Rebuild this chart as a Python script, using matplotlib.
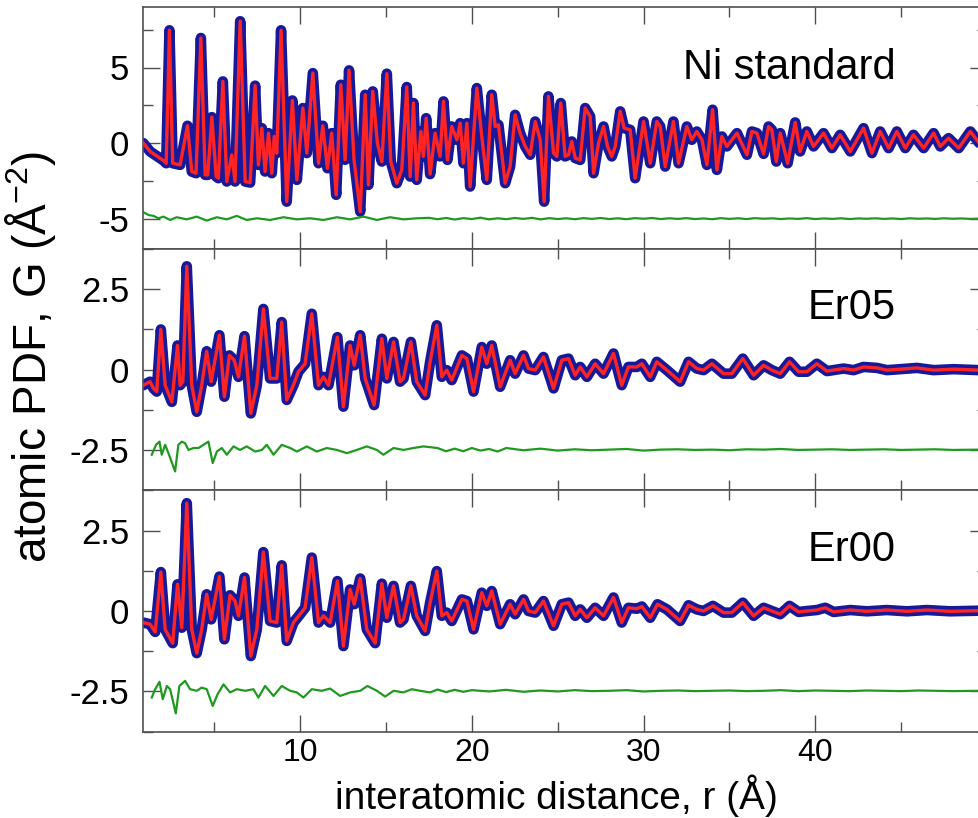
import matplotlib
matplotlib.use("Agg")
import matplotlib.pyplot as plt
from matplotlib import font_manager
from matplotlib.ticker import MultipleLocator, FixedLocator, NullFormatter, FuncFormatter

# ---------------- data ----------------
ni_r = [0.87, 1.26, 2.04, 2.20, 2.39, 2.58, 3.01, 3.44, 3.69, 3.94, 4.22, 4.47, 4.62, 4.86,
        5.11, 5.24, 5.50, 5.73, 6.02, 6.21, 6.51, 6.80, 7.09, 7.38, 7.57, 7.77, 7.96, 8.16,
        8.35, 8.49, 8.64, 8.89, 9.22, 9.55, 9.81, 10.16, 10.39, 10.74, 11.07, 11.32, 11.59,
        11.84, 12.10, 12.37, 12.62, 12.85, 13.14, 13.50, 13.79, 13.98, 14.23, 14.50, 14.76,
        15.05, 15.28, 15.63, 15.92, 16.21, 16.41, 16.60, 16.79, 17.03, 17.18, 17.34, 17.57,
        17.86, 18.15, 18.35, 18.58, 18.83, 19.13, 19.32, 19.51, 19.71, 19.90, 20.29, 20.58,
        20.87, 21.16, 21.36, 21.55, 21.94, 22.23, 22.52, 22.81, 23.11, 23.40, 23.69, 23.98,
        24.21, 24.46, 24.76, 24.95, 25.18, 25.43, 25.63, 25.82, 26.02, 26.31, 26.60, 26.89,
        27.09, 27.38, 27.67, 27.90, 28.15, 28.35, 28.64, 28.87, 29.22, 29.51, 30.00, 30.39,
        30.77, 30.97, 31.26, 31.74, 32.04, 32.52, 32.81, 33.10, 33.40, 33.69, 34.02, 34.27,
        34.56, 34.85, 35.44, 36.02, 36.31, 36.60, 36.99, 37.28, 37.47, 37.73, 37.96, 38.39,
        38.83, 39.12, 39.51, 39.90, 40.48, 40.97, 41.45, 42.04, 42.81, 43.30, 43.78, 44.27,
        44.75, 45.24, 45.72, 46.31, 46.89, 47.28, 47.76, 48.35, 49.03, 49.55]
ni_g = [0.00, -0.55, -1.15, -1.33, 7.46, -1.33, -1.44, 1.15, -1.88, -1.99, 6.95, -2.10, -2.10, 1.72,
        -2.21, -2.32, 4.08, -2.54, -0.78, -2.54, 8.06, -2.54, -2.61, 3.80, -1.44, 0.99, -1.88, 0.66,
        -1.99, 0.44, -0.66, 7.46, -3.87, 2.82, -2.43, 2.32, -0.66, 4.63, -1.33, 1.15, -1.66,
        0.66, -3.42, 3.86, -1.10, 4.81, -1.11, -4.53, 3.20, -2.76, 3.42, 0.00, -1.22,
        4.59, -1.22, -2.65, -1.77, 3.71, -2.21, 2.65, -2.43, 0.77, -0.88, 1.65, -2.05,
        0.66, -0.88, 2.76, -1.11, 1.10, 0.22, 1.32, -1.33, 1.32, -2.87, 3.64, 0.44,
        -2.43, 3.20, 1.10, 1.21, -2.65, -1.55, 1.87, 0.66, -0.22, -0.77, 1.43, 0.22,
        -3.87, 3.09, -0.66, -0.88, 2.65, -0.88, -0.77, 0.11, -0.99, -1.11, 2.32, 1.76,
        -1.99, 0.00, 1.10, -0.22, -0.88, -0.22, 2.10, 0.99, 0.88, -2.32, 1.43, -1.33,
        1.43, 1.10, -1.55, 1.43, -1.33, 1.10, 0.22, 0.77, 0.22, -1.44, 2.21, -1.77,
        0.44, -0.22, 0.66, -0.77, 0.77, 0.66, -0.71, 1.10, 0.88, -1.22, 0.66, -1.33,
        1.37, -0.55, 0.77, -0.22, 0.66, -0.33, 0.55, -0.55, 0.99, -0.66, 0.77, -0.33,
        0.77, -0.33, 0.55, -0.33, 0.66, -0.22, 0.33, -0.33, 0.77, 0.00]
ni_fit = list(ni_g)

ni_diff_r = [0.87, 1.17, 1.46, 1.75, 2.04, 2.43, 2.82, 3.40, 3.98, 4.56, 5.15, 5.73, 6.31, 6.89,
             7.48, 8.25, 9.03, 9.81, 10.58, 11.36, 12.14, 12.91, 13.69, 14.47, 15.24, 16.02,
             16.80, 17.5, 18.0, 18.5, 19.0, 19.5, 20.0, 20.5, 21.0, 21.5, 22.0, 22.5, 23.0,
             23.5, 24.0, 24.5, 25.0, 25.5, 26.0, 26.5, 27.0, 27.5, 28.0, 28.5, 29.0, 29.5,
             30.0, 30.5, 31.0, 31.5, 32.0, 32.5, 33.0, 33.5, 34.0, 34.5, 35.0, 35.5, 36.0,
             36.5, 37.0, 37.5, 38.0, 38.5, 39.0, 39.5, 40.0, 40.5, 41.0, 41.5, 42.0, 42.5,
             43.0, 43.5, 44.0, 44.5, 45.0, 45.5, 46.0, 46.5, 47.0, 47.5, 48.0, 48.5, 49.0, 49.6]
ni_diff_g = [-4.57, -4.75, -4.81, -4.97, -4.86, -5.08, -4.90, -5.04, -4.86, -5.12, -4.90, -5.04,
             -4.81, -5.08, -4.97, -5.08, -4.90, -5.04, -4.97, -5.08, -4.90, -5.04, -4.86, -5.08,
             -4.90, -5.04, -4.97, -4.94, -5.03, -4.95, -5.05, -4.96, -5.02, -4.93, -5.04, -4.97,
             -5.03, -4.95, -5.01, -4.94, -5.04, -4.96, -5.02, -4.97, -5.03, -4.96, -5.01, -4.95,
             -5.02, -4.97, -5.03, -4.96, -5.00, -4.95, -5.02, -4.97, -5.01, -4.96, -5.02, -4.98,
             -5.03, -4.96, -5.01, -4.97, -5.02, -4.96, -5.00, -4.97, -5.02, -4.98, -5.01, -4.96,
             -5.02, -4.98, -5.01, -4.97, -5.02, -4.98, -5.00, -4.97, -5.01, -4.98, -5.02, -4.97,
             -5.00, -4.98, -5.01, -4.97, -5.00, -4.98, -5.01, -4.99]

er05_r = [0.87, 1.26, 1.46, 1.65, 1.89, 2.14, 2.53, 2.86, 3.01, 3.17, 3.40, 3.69, 3.98, 4.27,
          4.56, 4.82, 5.30, 5.59, 5.88, 6.16, 6.41, 6.76, 7.13, 7.48, 7.86, 8.25, 8.64, 8.93,
          9.22, 9.61, 9.90, 10.29, 10.68, 11.07, 11.36, 11.65, 12.17, 12.52, 12.91, 13.15,
          13.50, 13.79, 14.31, 14.76, 15.05, 15.44, 15.82, 16.02, 16.45, 16.79, 17.28, 17.57,
          17.96, 18.25, 18.54, 18.83, 19.42, 19.71, 20.10, 20.58, 20.87, 21.16, 21.65, 22.23,
          22.52, 23.01, 23.30, 23.69, 24.17, 24.76, 25.24, 25.63, 26.02, 26.31, 26.70, 27.18,
          27.67, 28.25, 28.73, 29.12, 29.61, 29.90, 30.39, 30.77, 31.36, 32.13, 32.62, 33.10,
          33.49, 33.98, 34.66, 35.14, 35.78, 36.41, 36.99, 37.47, 37.96, 38.50, 39.03, 39.51,
          40.09, 40.68, 41.65, 42.23, 42.81, 43.59, 44.17, 44.95, 45.92, 46.89, 48.05, 49.55]
er05_g = [-0.49, -0.38, -0.59, -0.69, 1.25, -0.49, -1.01, 0.75, -0.49, -0.38, 3.22, -0.49, -1.32, -0.49,
          0.57, -0.38, 1.07, -0.85, 0.44, 0.29, -0.23, 1.04, -1.37, -0.49, 1.89, -0.28, -0.28, 1.48,
          -0.95, -0.49, -0.07, 0.18, 1.74, -0.49, -0.23, -0.49, 1.01, -1.16, 0.75, 0.13,
          1.07, -0.28, -1.11, 0.96, -0.28, 0.86, -0.38, -0.28, 0.86, -0.38, -0.80, 0.24,
          1.38, -0.23, -0.02, -0.33, 0.44, 0.34, -0.69, 0.70, 0.18, 0.75, -0.54, 0.29,
          -0.13, 0.44, 0.03, -0.02, 0.39, -0.59, 0.29, 0.34, -0.18, 0.08, -0.23, 0.18,
          -0.13, 0.50, -0.49, 0.08, 0.08, 0.18, -0.23, 0.24, -0.02, -0.38, 0.24, 0.03,
          -0.02, 0.18, -0.13, -0.13, 0.34, -0.18, 0.13, -0.02, -0.13, 0.24, -0.07, -0.07,
          0.18, -0.05, 0.03, -0.02, 0.08, 0.05, -0.02, 0.01, 0.05, -0.02, 0.01, -0.02]
er05_fit = list(er05_g)

er05_diff_r = [1.36, 1.61, 1.81, 1.94, 2.14, 2.33, 2.72, 2.91, 3.11, 3.30, 3.50, 3.79, 4.08, 4.37,
               4.66, 4.91, 5.15, 5.44, 5.73, 6.12, 6.50, 6.89, 7.38, 7.77, 8.06, 8.45, 8.93,
               9.42, 9.81, 10.39, 10.97, 11.55, 12.14, 12.72, 13.30, 13.88, 14.47, 14.85, 15.44,
               16.02, 16.60, 17.18, 18.0, 18.5, 19.0, 19.5, 20.0, 20.5, 21.0, 21.5, 22.0, 23.0,
               24.0, 25.0, 26.0, 27.0, 28.0, 29.0, 30.0, 31.0, 32.0, 33.0, 34.0, 35.0, 36.0,
               37.0, 38.0, 39.0, 40.0, 41.0, 42.0, 43.0, 44.0, 45.0, 46.0, 47.0, 48.0, 49.6]
er05_diff_g = [-2.66, -2.35, -2.25, -2.66, -2.35, -2.61, -3.18, -2.35, -2.25, -2.30, -2.51, -2.45,
               -2.45, -2.35, -2.25, -2.92, -2.56, -2.45, -2.66, -2.40, -2.51, -2.40, -2.56, -2.51,
               -2.35, -2.66, -2.35, -2.45, -2.56, -2.40, -2.56, -2.45, -2.51, -2.61, -2.51, -2.40,
               -2.51, -2.66, -2.45, -2.51, -2.45, -2.40, -2.45, -2.55, -2.47, -2.55, -2.45, -2.53,
               -2.48, -2.56, -2.45, -2.52, -2.47, -2.53, -2.49, -2.52, -2.50, -2.48, -2.53, -2.50,
               -2.49, -2.51, -2.50, -2.52, -2.49, -2.50, -2.48, -2.51, -2.50, -2.49, -2.51, -2.50,
               -2.49, -2.51, -2.50, -2.49, -2.51, -2.50]

er00_r = [0.87, 1.26, 1.56, 1.89, 2.14, 2.58, 2.86, 3.11, 3.40, 3.69, 3.98, 4.27, 4.56, 4.82,
          5.30, 5.59, 5.92, 6.21, 6.41, 6.76, 7.13, 7.48, 7.86, 8.25, 8.64, 8.93, 9.22, 9.61,
          10.00, 10.29, 10.68, 11.07, 11.36, 11.75, 12.17, 12.52, 12.91, 13.15, 13.50, 13.88,
          14.37, 14.76, 15.05, 15.44, 15.82, 16.02, 16.45, 16.79, 17.28, 17.57, 17.96, 18.25,
          18.54, 18.83, 19.42, 19.71, 20.10, 20.58, 20.87, 21.16, 21.65, 22.23, 22.52, 23.01,
          23.30, 23.69, 24.17, 24.76, 25.24, 25.63, 26.02, 26.31, 26.70, 27.18, 27.67, 28.25,
          28.73, 29.12, 29.61, 29.90, 30.39, 30.81, 31.36, 32.13, 32.62, 33.10, 33.49, 34.04,
          34.66, 35.14, 35.78, 36.41, 36.99, 37.47, 37.96, 38.50, 39.03, 39.51, 40.09, 40.58,
          41.07, 42.04, 43.01, 44.17, 45.34, 46.50, 47.86, 49.55]
er00_g = [-0.36, -0.41, -0.65, 1.21, -0.57, -1.00, 0.83, -0.52, 3.35, -0.57, -1.31, -0.57, 0.52, -0.26,
          1.07, -0.88, 0.49, 0.31, -0.15, 1.04, -1.40, -0.57, 1.83, -0.31, -0.36, 1.42, -0.93, -0.36,
          -0.10, 0.10, 1.66, -0.36, -0.15, -0.36, 0.93, -1.09, 0.67, 0.21, 1.01, -0.57,
          -1.00, 0.85, -0.21, 0.78, -0.36, -0.26, 0.78, -0.15, -0.62, 0.26, 1.24, -0.15,
          -0.05, -0.31, 0.36, 0.31, -0.57, 0.57, 0.16, 0.62, -0.41, 0.21, -0.10, 0.36,
          0.00, -0.05, 0.31, -0.46, 0.21, 0.26, -0.15, 0.05, -0.21, 0.10, -0.15, 0.42,
          -0.36, 0.10, 0.07, 0.14, -0.21, 0.21, 0.05, -0.31, 0.18, 0.05, 0.00, 0.16,
          -0.05, -0.05, 0.26, -0.15, 0.10, 0.00, -0.10, 0.16, -0.03, 0.00, 0.03, 0.10,
          -0.03, 0.03, -0.01, 0.03, -0.01, 0.03, -0.01, 0.01]
er00_fit = list(er00_g)

er00_diff_r = [1.36, 1.56, 1.81, 2.00, 2.24, 2.43, 2.76, 2.97, 3.30, 3.59, 3.98, 4.27, 4.56, 4.91,
               5.19, 5.54, 5.92, 6.31, 6.80, 7.28, 7.57, 7.96, 8.45, 8.93, 9.42, 9.81, 10.19,
               10.68, 11.26, 11.75, 12.33, 12.91, 13.50, 13.92, 14.47, 14.95, 15.44, 16.02, 16.50,
               16.99, 17.57, 18.0, 18.5, 19.0, 19.5, 20.0, 21.0, 22.0, 23.0, 24.0, 25.0, 26.0,
               27.0, 28.0, 29.0, 30.0, 31.0, 32.0, 33.0, 34.0, 35.0, 36.0, 37.0, 38.0, 39.0,
               40.0, 41.0, 42.0, 43.0, 44.0, 45.0, 46.0, 47.0, 48.0, 49.6]
er00_diff_g = [-2.69, -2.43, -2.20, -2.74, -2.33, -2.43, -3.18, -2.33, -2.17, -2.43, -2.48, -2.38,
               -2.43, -2.95, -2.59, -2.28, -2.53, -2.43, -2.48, -2.43, -2.69, -2.33, -2.64, -2.33,
               -2.48, -2.53, -2.69, -2.43, -2.48, -2.41, -2.64, -2.53, -2.48, -2.33, -2.48, -2.66,
               -2.48, -2.53, -2.43, -2.48, -2.53, -2.44, -2.52, -2.45, -2.51, -2.46, -2.50, -2.45,
               -2.51, -2.47, -2.50, -2.46, -2.49, -2.48, -2.46, -2.50, -2.48, -2.47, -2.49, -2.48,
               -2.47, -2.49, -2.48, -2.46, -2.49, -2.47, -2.48, -2.49, -2.47, -2.48, -2.49, -2.47,
               -2.48, -2.49, -2.48]

panel_names = ["Ni standard", "Er05", "Er00"]
x_ticks = [10, 20, 30, 40]
ylims = [(-7.0, 9.0), (-3.76, 3.76), (-3.76, 3.76)]
y_major = [5.0, 2.5, 2.5]
y_minor = [2.5, 1.25, 1.25]

# ---------------- style ----------------
narrow_found = any(f.name == "Liberation Sans Narrow" for f in font_manager.fontManager.ttflist)
REG = "Liberation Sans"
NARROW = "Liberation Sans Narrow" if narrow_found else REG
nscale = 1.2 if narrow_found else 1.0

BLUE = "#18189a"
RED = "#ff2424"
GREEN = "#1f9a1f"
SPINE = "#505050"

W, H = 979, 818
fig = plt.figure(figsize=(W / 100, H / 100), dpi=100)

tops = [7, 249, 490]
bots = [249, 490, 732]
left_px, right_px = 143, 987

data = [(ni_r, ni_g, ni_fit, ni_diff_r, ni_diff_g),
        (er05_r, er05_g, er05_fit, er05_diff_r, er05_diff_g),
        (er00_r, er00_g, er00_fit, er00_diff_r, er00_diff_g)]
label_y = [68, 308, 550]

fmt = FuncFormatter(lambda v, _: ("%g" % v))

for i in range(3):
    ax = fig.add_axes([left_px / W, 1 - bots[i] / H, (right_px - left_px) / W,
                       (bots[i] - tops[i]) / H])
    r, g, fit, dr, dg = data[i]
    ax.plot(r, g, color=BLUE, lw=7.6, solid_joinstyle="round", solid_capstyle="round", zorder=2)
    ax.plot(r, fit, color=RED, lw=2.4, solid_joinstyle="round", zorder=3)
    ax.plot(dr, dg, color=GREEN, lw=1.6, zorder=2)
    ax.set_xlim(0.85, 50.0)
    ax.set_ylim(*ylims[i])
    ax.xaxis.set_major_locator(FixedLocator(x_ticks))
    ax.xaxis.set_minor_locator(MultipleLocator(5))
    ax.yaxis.set_major_locator(MultipleLocator(y_major[i]))
    ax.yaxis.set_minor_locator(MultipleLocator(y_minor[i]))
    ax.yaxis.set_major_formatter(fmt)
    ax.tick_params(which="both", direction="in", top=True, right=True, color=SPINE, width=1.0)
    ax.tick_params(which="major", length=12.5)
    ax.tick_params(which="minor", length=7)
    ax.tick_params(axis="y", which="major", labelsize=25, pad=10)
    for lab in ax.get_yticklabels():
        lab.set_fontfamily(REG)
    if i < 2:
        ax.xaxis.set_major_formatter(NullFormatter())
    else:
        ax.xaxis.set_major_formatter(fmt)
        ax.tick_params(axis="x", which="major", labelsize=23 * nscale, pad=4)
        for lab in ax.get_xticklabels():
            lab.set_fontfamily(NARROW)
    for s in ax.spines.values():
        s.set_color(SPINE)
        s.set_linewidth(1.2)
    fig.text(896 / W, 1 - label_y[i] / H, panel_names[i], ha="right", va="center",
             fontsize=30, family=REG)

fig.text(556 / W, 1 - 817 / H, "interatomic distance, r (Å)", ha="center", va="bottom",
         fontsize=28 * nscale, family=NARROW)
fig.text(31 / W, 1 - 357 / H, "atomic PDF, G (Å$^{\\mathregular{-2}}$)", ha="center",
         va="center", rotation=90, fontsize=33 * nscale, family=NARROW)

fig.savefig("out.png", dpi=100)
